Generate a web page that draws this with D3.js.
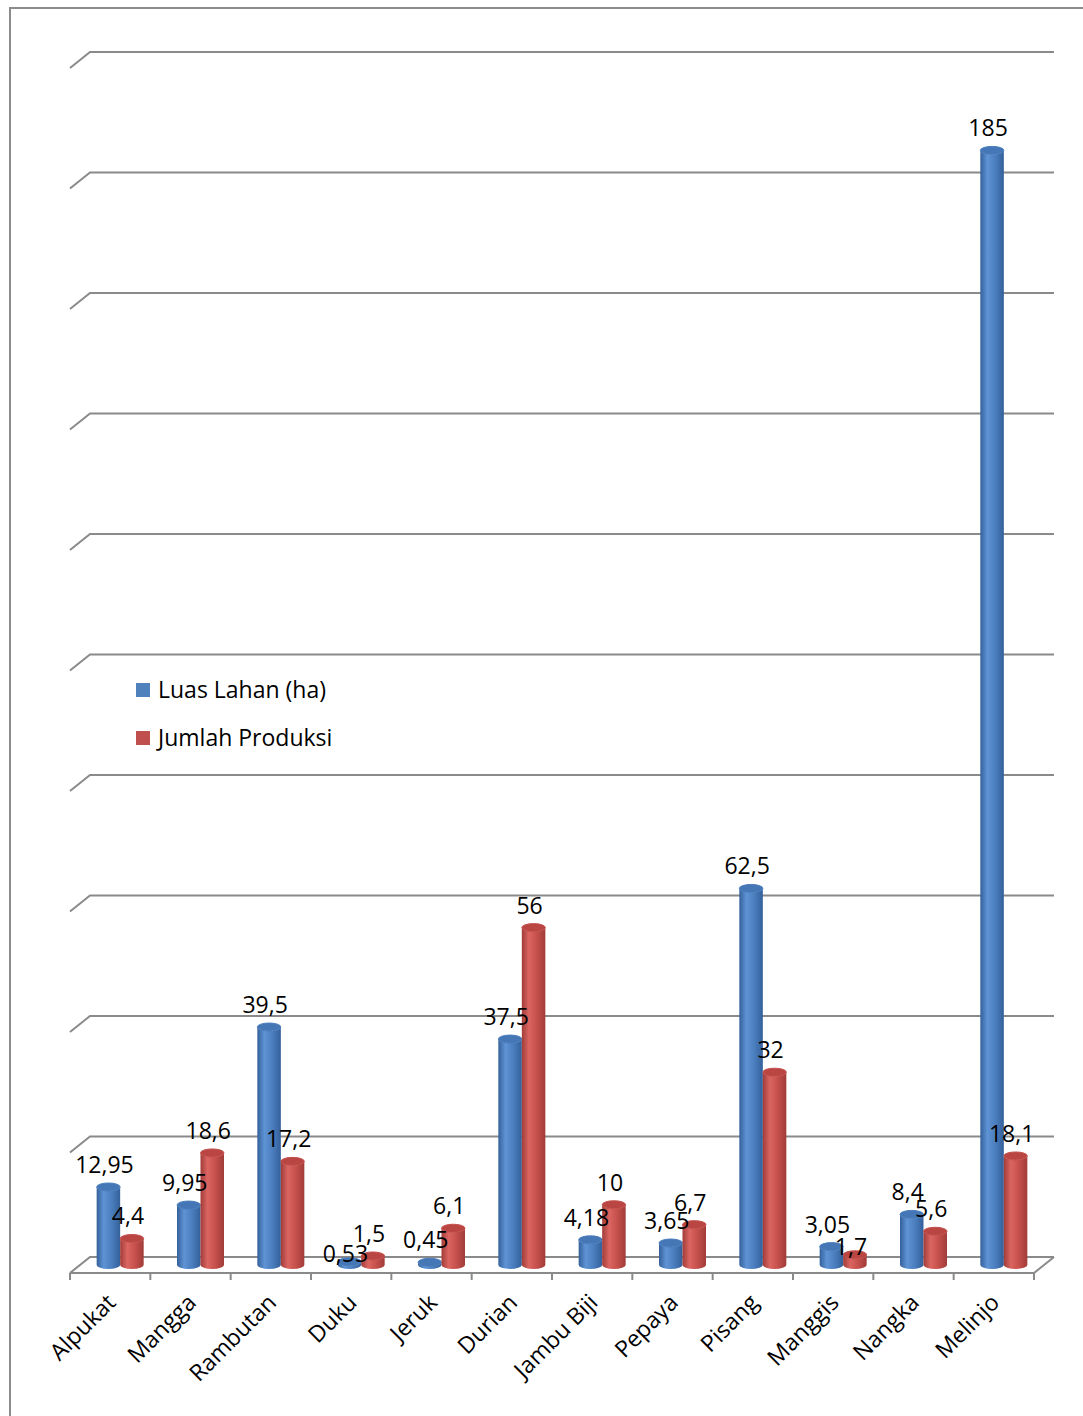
<!DOCTYPE html>
<html>
<head>
<meta charset="utf-8">
<script src="https://cdn.jsdelivr.net/npm/d3@7"></script>
<style>
  html, body { margin: 0; padding: 0; background: #ffffff; }
  svg text { font-family: "Open Sans", "Noto Sans", "Liberation Sans", sans-serif; fill: #000; }
</style>
</head>
<body>
<svg id="chart" width="1083" height="1416"></svg>
<script>
// ---- data ----
const categories = ["Alpukat", "Mangga", "Rambutan", "Duku", "Jeruk", "Durian",
                    "Jambu Biji", "Pepaya", "Pisang", "Manggis", "Nangka", "Melinjo"];
const luasLahan = [12.95, 9.95, 39.5, 0.53, 0.45, 37.5, 4.18, 3.65, 62.5, 3.05, 8.4, 185];
const jumlahProduksi = [4.4, 18.6, 17.2, 1.5, 6.1, 56, 10, 6.7, 32, 1.7, 5.6, 18.1];
const seriesNames = ["Luas Lahan (ha)", "Jumlah Produksi"];
const valueTicks = [0, 20, 40, 60, 80, 100, 120, 140, 160, 180, 200];

// ---- layout ----
const svg = d3.select("#chart");
const floorLeft = 70, floorRight = 1034, floorY = 1273;
const depthX = 20, depthY = -16;            // offset from front edge to back wall
const midX = depthX / 2, midY = depthY / 2; // bars stand half-way in depth
const gridColor = "#8a8a8a";
const fontSize = 23;

const x = d3.scaleBand().domain(categories).range([floorLeft, floorRight]);
const inner = d3.scaleBand().domain(seriesNames).range([-23.5, 23.5]);
const h = d3.scaleLinear().domain([0, 200]).range([0, 1205]);

const series = [
  { name: seriesNames[0], values: luasLahan, light: "#5e93d5", mid: "#4a7dbd", dark: "#34609a", top: "#4576b5", swatch: "#4f81bd" },
  { name: seriesNames[1], values: jumlahProduksi, light: "#da6561", mid: "#c44f4b", dark: "#a13c39", top: "#b94642", swatch: "#c0504d" }
];

// gradients for the cylinders
const defs = svg.append("defs");
series.forEach((s, i) => {
  const g = defs.append("linearGradient").attr("id", "cyl" + i)
    .attr("x1", "0%").attr("x2", "100%").attr("y1", "0%").attr("y2", "0%");
  g.append("stop").attr("offset", "0%").attr("stop-color", s.dark);
  g.append("stop").attr("offset", "30%").attr("stop-color", s.light);
  g.append("stop").attr("offset", "65%").attr("stop-color", s.mid);
  g.append("stop").attr("offset", "100%").attr("stop-color", s.dark);
});

// chart frame
svg.append("rect")
  .attr("x", 10).attr("y", 8).attr("width", 1200).attr("height", 1600)
  .attr("fill", "none").attr("stroke", "#8c8c8c").attr("stroke-width", 2);

// back wall gridlines with the slanted side-wall segment
const grid = svg.append("g").attr("fill", "none").attr("stroke", gridColor).attr("stroke-width", 2);
valueTicks.forEach(v => {
  const yb = floorY + depthY - h(v);
  grid.append("path")
    .attr("d", `M${floorLeft},${yb - depthY} L${floorLeft + depthX},${yb} L${floorRight + depthX},${yb}`);
});
// floor front edge and right side
grid.append("path")
  .attr("d", `M${floorLeft},${floorY} L${floorRight},${floorY} L${floorRight + depthX},${floorY + depthY}`);
// category ticks
const bounds = categories.map(c => x(c)).concat([floorRight]);
grid.selectAll("line.tick").data(bounds).join("line")
  .attr("x1", d => d).attr("x2", d => d)
  .attr("y1", floorY).attr("y2", floorY + 7);

// cylinders
const baseY = floorY + midY;
const bw = inner.bandwidth();
const ry = 4;
const bars = svg.append("g");
categories.forEach((c, ci) => {
  series.forEach((s, si) => {
    const cx = x(c) + x.bandwidth() / 2 + midX;
    const x0 = cx + inner(s.name), x1 = x0 + bw, rx = bw / 2;
    const yTop = baseY - h(s.values[ci]);
    const g = bars.append("g");
    g.append("path")
      .attr("d", `M${x0},${yTop} L${x0},${baseY} A${rx},${ry} 0 0 0 ${x1},${baseY} L${x1},${yTop} A${rx},${ry} 0 0 1 ${x0},${yTop} Z`)
      .attr("fill", `url(#cyl${si})`);
    g.append("ellipse")
      .attr("cx", x0 + rx).attr("cy", yTop).attr("rx", rx).attr("ry", ry)
      .attr("fill", s.top).attr("stroke", s.mid).attr("stroke-width", 1);
  });
});

// value labels: sit 14px above the cylinder top; when the two labels of a
// category would collide, the lower one drops onto its cylinder top
const fmt = v => String(v).replace(".", ",");
const gap = 14;
const labelData = [];
categories.forEach((c, ci) => {
  const ys = series.map(s => baseY - h(s.values[ci]) - gap);
  const clash = Math.abs(ys[0] - ys[1]) < 12;
  series.forEach((s, si) => {
    const v = s.values[ci];
    const other = series[1 - si].values[ci];
    const cx = x(c) + x.bandwidth() / 2 + midX + inner(s.name) + bw / 2;
    labelData.push({
      x: cx - 4,
      y: ys[si] + (clash && v < other ? gap : 0),
      text: fmt(v)
    });
  });
});
svg.append("g").attr("font-size", fontSize).attr("text-anchor", "middle")
  .selectAll("text").data(labelData).join("text")
  .attr("x", d => d.x).attr("y", d => d.y).text(d => d.text);

// category labels
svg.append("g").attr("font-size", fontSize).attr("text-anchor", "end")
  .selectAll("text").data(categories).join("text")
  .attr("transform", d => `translate(${x(d) + x.bandwidth() / 2 + 7},${floorY + 31}) rotate(-45)`)
  .text(d => d);

// legend
const legend = svg.append("g").attr("font-size", fontSize);
series.forEach((s, i) => {
  const ly = 683 + i * 48;
  legend.append("rect").attr("x", 136).attr("y", ly).attr("width", 14).attr("height", 14).attr("fill", s.swatch);
  legend.append("text").attr("x", 158).attr("y", ly + 15).text(s.name);
});
</script>
</body>
</html>
